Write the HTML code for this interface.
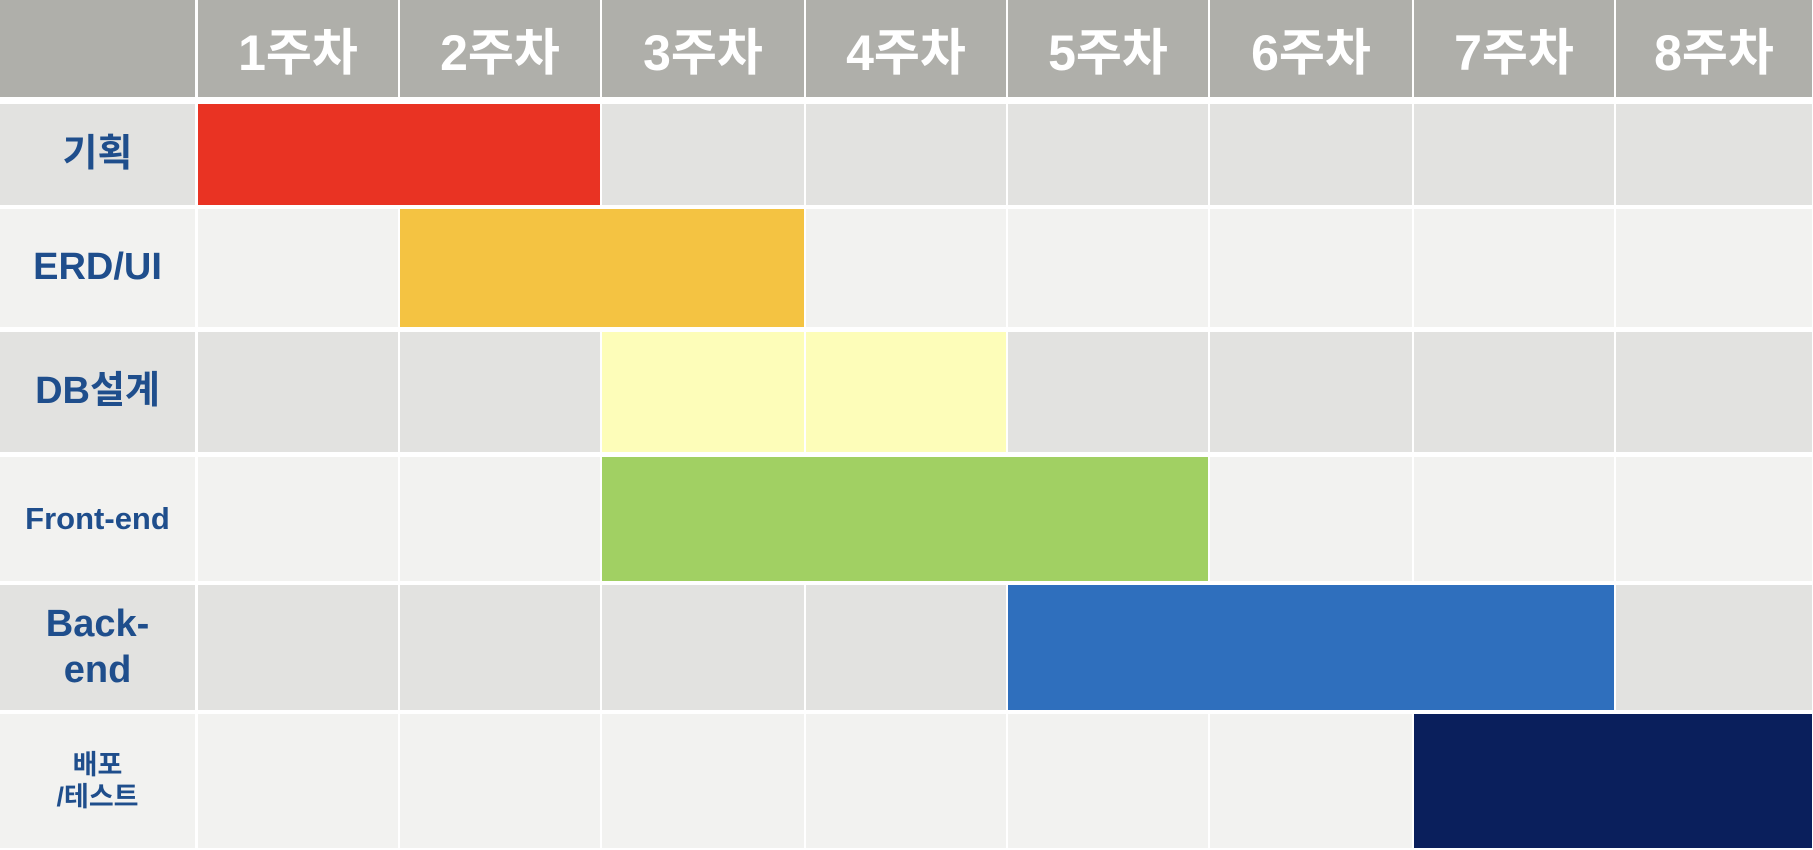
<!DOCTYPE html>
<html><head><meta charset="utf-8"><style>
body{margin:0;width:1813px;height:850px;background:#fff;overflow:hidden;font-family:"Liberation Sans","Noto Sans CJK KR",sans-serif}
.c{position:absolute;box-sizing:border-box;display:flex;align-items:center;justify-content:center;text-align:center}
.h{background:#afafaa;color:#fff;font-weight:bold;font-size:50px}
.l{color:#1f4e8c;font-weight:bold;line-height:1.2}
</style></head><body>
<div id="root"></div>
<script>
const weeks=["1주차","2주차","3주차","4주차","5주차","6주차","7주차","8주차"];
const tasks=["기획","ERD/UI","DB설계","Front-end","Back-<br>end","배포<br>/테스트"];
const taskStart=[1,2,3,3,5,7];
const taskEnd=[2,3,4,5,7,8];
const splitBars=[false,false,true,false,false,false];
const colors=["#e93323","#f4c342","#fdfdb9","#a1d063","#2f6fbd","#0a1f5c"];
const labelSizes=[38,38,38,31,38,27];
const colX=[0,197,399,601,805,1007,1209,1413,1615,1813];
const rowY=[[0,97],[104,207],[209,329],[332,454],[457,583],[585,712],[714,850]];
const root=document.getElementById('root');
function mk(x,y,w,h,cls,bg,html){const d=document.createElement('div');d.className='c '+cls;d.style.left=x+'px';d.style.top=y+'px';d.style.width=w+'px';d.style.height=h+'px';if(bg)d.style.background=bg;if(html)d.innerHTML=html;root.appendChild(d);return d;}
let e=mk(0,0,colX[1]-2,97,'h','','');


weeks.forEach((w,i)=>{const el=mk(colX[i+1]+1,0,colX[i+2]-colX[i+1]-2,97,'h','',w);

});
tasks.forEach((t,r)=>{const [y0,y1]=rowY[r+1];const bg=r%2==0?'#e2e2e0':'#f2f2f0';
const lab=mk(0,y0,colX[1]-2,y1-y0-2,'l',bg,t);lab.style.fontSize=labelSizes[r]+'px';


for(let i=0;i<8;i++){const cell=mk(colX[i+1]+1,y0,colX[i+2]-colX[i+1]-2,y1-y0-2,'',bg,'');

}
const x0=colX[taskStart[r]]+1,x1=colX[taskEnd[r]+1]-1;
const bar=mk(x0,y0,x1-x0,y1-y0-2,'',colors[r],'');


if(splitBars[r]){for(let k=taskStart[r]+1;k<=taskEnd[r];k++){const ln=mk(colX[k]-1,y0,2,y1-y0-2,'','#ffffff','');

}}
});
</script>
</body></html>
